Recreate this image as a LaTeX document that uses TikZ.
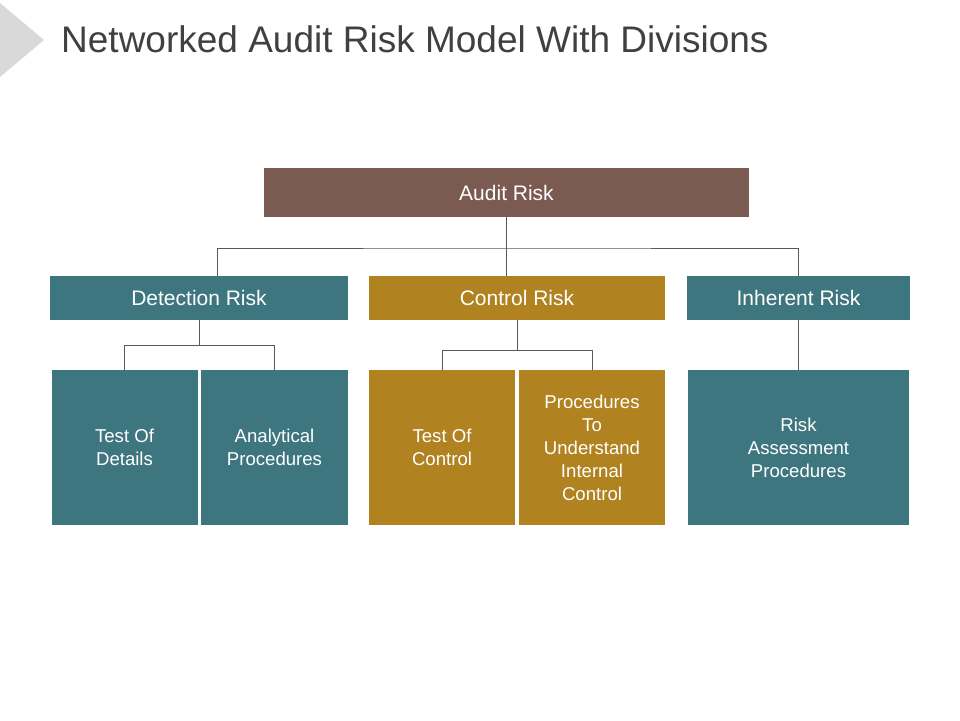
\documentclass[tikz,border=0pt]{standalone}
\usepackage{fontspec}
\setmainfont{Liberation Sans}
\definecolor{auditbrown}{HTML}{7B5A51}
\definecolor{riskteal}{HTML}{3E7680}
\definecolor{riskgold}{HTML}{B08220}
\definecolor{linkgray}{HTML}{595959}
\definecolor{titlegray}{HTML}{404040}
\definecolor{markgray}{HTML}{D9D9D9}
\begin{document}
\begin{tikzpicture}[x=1pt,y=-1pt,
	head/.style={fill=#1,text=white,inner sep=0pt,minimum height=44pt,font=\fontsize{21}{25}\selectfont},
	leaf/.style={fill=#1,text=white,inner sep=0pt,minimum height=155pt,align=center,font=\fontsize{18.6}{23}\selectfont},
	link/.style={draw=linkgray,line width=1pt}]
				\useasboundingbox (0,0) rectangle (960,720);
				\fill[markgray] (0,3) -- (44,40) -- (0,77) -- cycle;
				\node[anchor=base west,inner sep=0pt,text=titlegray,font=\fontsize{37}{44}\selectfont] (title) at (61,52) {Networked Audit Risk Model With Divisions};
				\node[head=auditbrown,minimum width=485pt,minimum height=49pt] (audit) at (506.5,192.5) {Audit Risk};
				\node[head=riskteal,minimum width=298pt] (detection) at (199,298) {Detection Risk};
				\node[head=riskgold,minimum width=296pt] (control) at (517,298) {Control Risk};
				\node[head=riskteal,minimum width=223pt] (inherent) at (798.5,298) {Inherent Risk};
				\node[leaf=riskteal,minimum width=146pt] (details) at (124.5,447.5) {Test Of\\Details};
				\node[leaf=riskteal,minimum width=147pt] (analytical) at (274.5,447.5) {Analytical\\Procedures};
				\node[leaf=riskgold,minimum width=146pt] (testcontrol) at (442,447.5) {Test Of\\Control};
				\node[leaf=riskgold,minimum width=146pt] (understand) at (592,447.5) {Procedures\\To\\Understand\\Internal\\Control};
				\node[leaf=riskteal,minimum width=221pt] (assessment) at (798.5,447.5) {Risk\\Assessment\\Procedures};
				\coordinate (bus) at (audit.south |- 0,248);
				\draw[link] (audit.south) -- (audit.south |- control.north);
				\draw[link] ([xshift=18pt]detection.north) |- (bus) -| (inherent.north);
				\draw[link] (detection.south) -- ++(0,25) coordinate (dj);
				\draw[link] (details.north) |- (dj) -| (analytical.north);
				\draw[link] (control.south) -- ++(0,30) coordinate (cj);
				\draw[link] (testcontrol.north) |- (cj) -| (understand.north);
				\draw[link] (inherent.south) -- (assessment.north);
				\end{tikzpicture}
\end{document}
